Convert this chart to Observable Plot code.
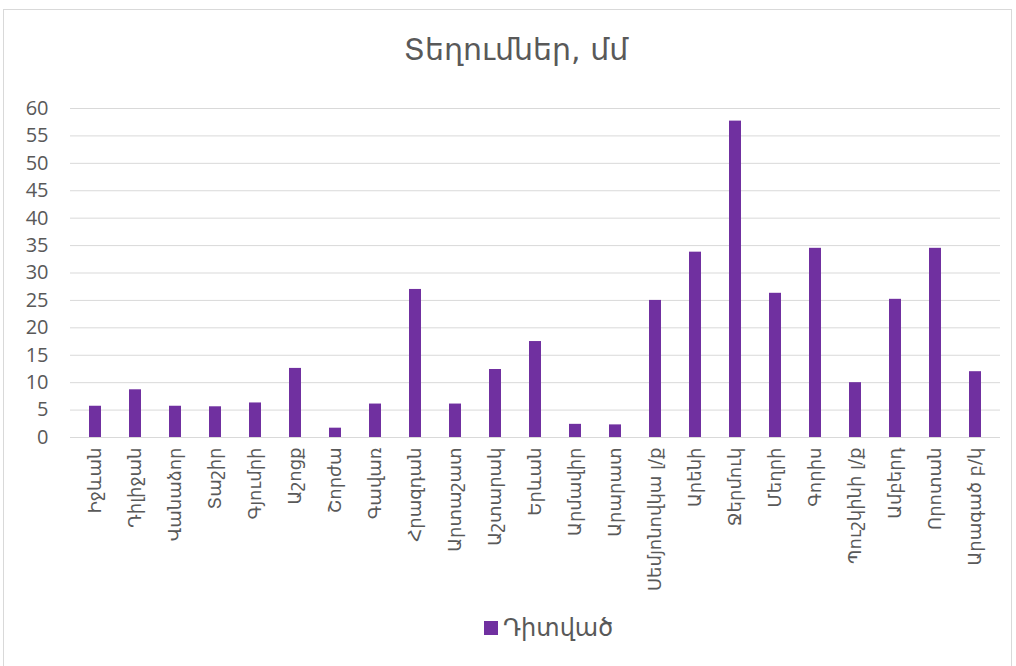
<!DOCTYPE html>
<html>
<head>
<meta charset="utf-8">
<script src="https://cdn.jsdelivr.net/npm/d3@7"></script>
<script src="https://cdn.jsdelivr.net/npm/@observablehq/plot@0.6"></script>
<style>
  html, body { margin: 0; padding: 0; background: #fff; }
  #wrap { position: relative; width: 1016px; height: 666px; overflow: hidden; font-family: "DejaVu Sans", sans-serif; }
  #frame { position: absolute; left: 3px; top: 9px; width: 1009px; height: 670px; border: 1px solid #d9d9d9; box-sizing: border-box; }
  #title { position: absolute; left: 0; width: 1032px; top: 32px; text-align: center; font-size: 30px; color: #595959; }
  #chart { position: absolute; left: 0; top: 90px; }
  #legend { position: absolute; top: 614px; left: 484px; font-size: 24px; color: #595959; white-space: nowrap; }
  #legend span.sw { display: inline-block; width: 14px; height: 14px; background: #7030A0; margin-right: 5px; vertical-align: 1px; }
</style>
</head>
<body>
<div id="wrap">
  <div id="frame"></div>
  <div id="title">Տեղումներ, մմ</div>
  <div id="chart"></div>
  <div id="legend"><span class="sw"></span>Դիտված</div>
</div>
<script>
const stations = ["Իջևան","Դիլիջան","Վանաձոր","Տաշիր","Գյումրի","Աշոցք","Շորժա","Գավառ","Հրազդան","Արտաշատ","Աշտարակ","Երևան","Արմավիր","Արարատ","Սեմյոնովկա լ/ք","Արենի","Ջերմուկ","Մեղրի","Գորիս","Պուշկինի լ/ք","Ամբերդ","Որոտան","Արագած բ/կ"];
const observed = [5.7, 8.7, 5.7, 5.6, 6.3, 12.6, 1.7, 6.1, 27.0, 6.1, 12.4, 17.5, 2.4, 2.3, 25.0, 33.8, 57.7, 26.3, 34.5, 10.0, 25.2, 34.5, 12.0];
const yTicks = [0,5,10,15,20,25,30,35,40,45,50,55,60];
const seriesName = "Դիտված";

const data = stations.map((s, i) => ({station: s, value: observed[i], series: seriesName}));

const chart = Plot.plot({
  width: 1016,
  height: 520,
  marginTop: 18,
  marginBottom: 173,
  marginLeft: 70,
  marginRight: 16,
  style: {fontFamily: '"DejaVu Sans", sans-serif', fontSize: "16px", color: "#595959", background: "transparent"},
  x: {domain: stations, paddingInner: 0.7, paddingOuter: 0.35, label: null},
  y: {domain: [0, 60], label: null},
  marks: [
    Plot.gridY(yTicks, {stroke: "#d9d9d9", strokeOpacity: 1, strokeWidth: 1}),
    Plot.barY(data, {x: "station", y: "value", fill: "#7030A0"}),
    Plot.axisY({ticks: yTicks, tickSize: 0, tickPadding: 22, fontSize: 20, fontFamily: '"Open Sans", sans-serif', label: null}),
    Plot.axisX({tickSize: 0, tickPadding: 10, tickRotate: -90, fontSize: 18, label: null})
  ]
});
document.getElementById("chart").appendChild(chart);
</script>
</body>
</html>
